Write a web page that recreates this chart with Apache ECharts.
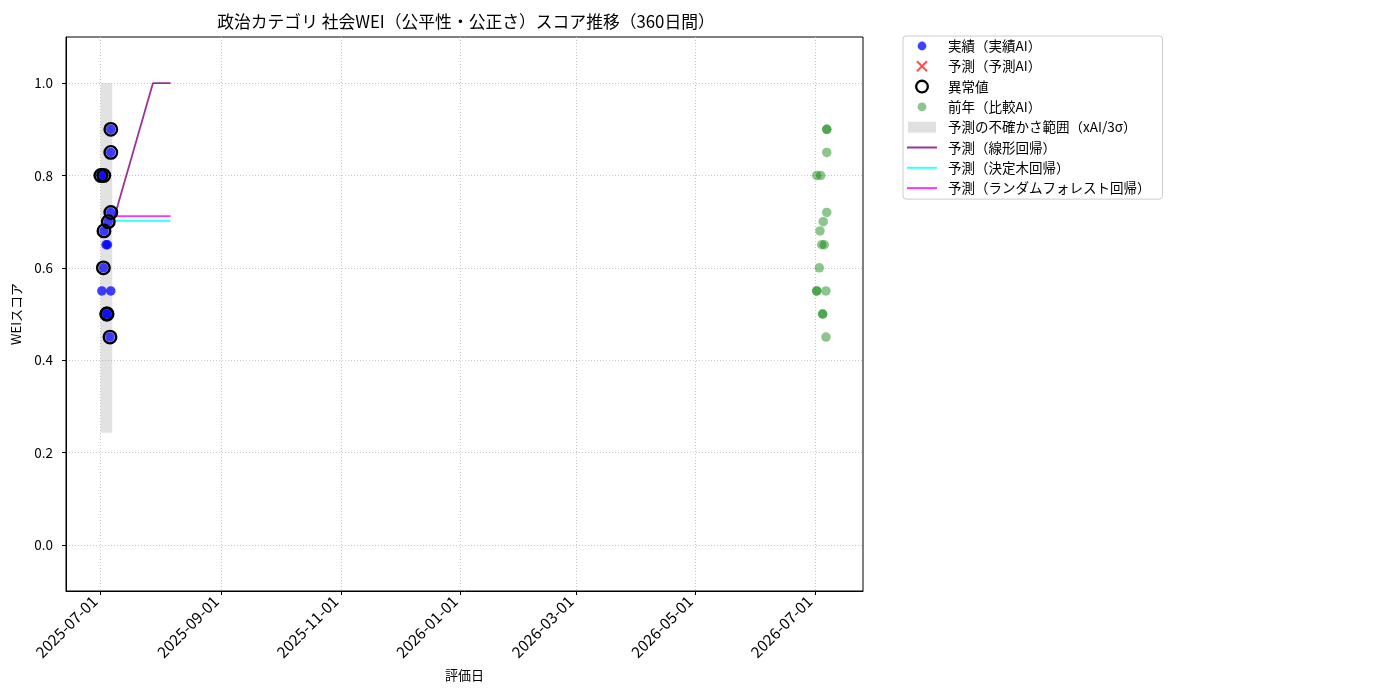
<!DOCTYPE html>
<html><head><meta charset="utf-8">
<script src="https://cdn.jsdelivr.net/npm/echarts@6/dist/echarts.min.js"></script>
<style>html,body{margin:0;padding:0;background:#fff}#c{width:1400px;height:700px}</style>
</head><body><div id="c"></div>
<script>
// ---- data ----
const actualDates = ['2025-07-06 12:00','2025-07-06 12:00','2025-07-01 10:00','2025-07-02 22:00','2025-07-06 12:00','2025-07-05 05:00','2025-07-03 00:00','2025-07-04 02:00','2025-07-04 19:00','2025-07-02 17:00','2025-07-01 22:00','2025-07-06 12:00','2025-07-04 10:00','2025-07-04 14:00','2025-07-06 02:00'];
const actualValues = [0.90,0.85,0.80,0.80,0.72,0.70,0.68,0.65,0.65,0.60,0.55,0.55,0.50,0.50,0.45];
const anomalyDates = ['2025-07-06 12:00','2025-07-06 12:00','2025-07-01 10:00','2025-07-02 22:00','2025-07-06 12:00','2025-07-05 05:00','2025-07-03 00:00','2025-07-02 17:00','2025-07-04 10:00','2025-07-04 14:00','2025-07-06 02:00'];
const anomalyValues = [0.90,0.85,0.80,0.80,0.72,0.70,0.68,0.60,0.50,0.50,0.45];
const prevDates = ['2026-07-07 00:00','2026-07-07 00:00','2026-07-07 00:00','2026-07-01 21:00','2026-07-03 22:00','2026-07-07 00:00','2026-07-05 05:00','2026-07-03 13:00','2026-07-04 10:00','2026-07-05 18:00','2026-07-03 05:00','2026-07-01 21:00','2026-07-01 21:00','2026-07-06 14:00','2026-07-04 22:00','2026-07-04 22:00','2026-07-06 14:00'];
const prevValues = [0.90,0.90,0.85,0.80,0.80,0.72,0.70,0.68,0.65,0.65,0.60,0.55,0.55,0.55,0.50,0.50,0.45];
const predDates = [];
const predValues = [];
const bandDates = ['2025-07-01 08:00','2025-07-07 06:00'];
const bandLow = [0.243];
const bandHigh = [1.0];
const linearDates = ['2025-07-08 00:00','2025-07-28 00:00','2025-08-06 00:00'];
const linearValues = [0.705,1.0,1.0];
const treeDates = ['2025-07-08 00:00','2025-08-06 00:00'];
const treeValues = [0.702,0.702];
const rfDates = ['2025-07-08 00:00','2025-08-06 00:00'];
const rfValues = [0.712,0.712];
const xTickLabels = ['2025-07-01','2025-09-01','2025-11-01','2026-01-01','2026-03-01','2026-05-01','2026-07-01'];
const yTickValues = [0.0,0.2,0.4,0.6,0.8,1.0];
const xRange = ['2025-06-13 15:00','2026-07-25 12:00'];

const ts = s => new Date(s.length === 10 ? s + 'T00:00:00' : s.replace(' ', 'T') + ':00').getTime();
const pairs = (d, v) => d.map((x, i) => [ts(x), v[i]]);
const pad = n => String(n).padStart(2, '0');
const fmtDate = v => { const d = new Date(v); return d.getFullYear() + '-' + pad(d.getMonth() + 1) + '-' + pad(d.getDate()); };

const FONT = '"Noto Sans CJK JP", "Noto Sans", sans-serif';
const BOX = 'M0,0M30,14';
const names = ['実績（実績AI）','予測（予測AI）','異常値','前年（比較AI）','予測の不確かさ範囲（xAI/3σ）','予測（線形回帰）','予測（決定木回帰）','予測（ランダムフォレスト回帰）'];
const BLUE = 'rgba(0,0,255,0.75)', GREEN = 'rgba(0,128,0,0.45)';
const ICON_DOT = 'path://' + BOX + 'M19.4,7A4.4,4.4,0,1,1,10.6,7A4.4,4.4,0,1,1,19.4,7Z';
const ICON_X = 'path://' + BOX + 'M10.7,1.3L20.7,11.3L19.3,12.7L9.3,2.7ZM19.3,1.3L20.7,2.7L10.7,12.7L9.3,11.3Z';
const ICON_RING = 'path://' + BOX + 'M22.3,7A7.3,7.3,0,1,1,7.7,7A7.3,7.3,0,1,1,22.3,7ZM19.9,7A4.9,4.9,0,1,0,10.1,7A4.9,4.9,0,1,0,19.9,7Z';
const ICON_RECT = 'path://' + BOX + 'M1,1.5L29,1.5L29,12.5L1,12.5Z';
const ICON_LINE = 'path://' + BOX + 'M0,6L30,6L30,8L0,8Z';

const chart = echarts.init(document.getElementById('c'), null, {renderer: 'canvas'});
chart.setOption({
  animation: false,
  backgroundColor: '#fff',
  textStyle: {fontFamily: FONT},
  title: {
    text: '政治カテゴリ 社会WEI（公平性・公正さ）スコア推移（360日間）',
    left: 461, top: 8, textAlign: 'center',
    textStyle: {fontSize: 16.8, fontWeight: 'normal', color: '#000', fontFamily: FONT}
  },
  legend: {
    orient: 'vertical', left: 903, top: 36,
    itemWidth: 30, itemHeight: 14, itemGap: 6.3,
    padding: [3, 12, 4, 4],
    borderColor: '#cccccc', borderWidth: 1, borderRadius: 3,
    textStyle: {fontSize: 13.5, color: '#000', fontFamily: FONT, lineHeight: 14, padding: [0, 0, 0, 6]},
    data: [
      {name: names[0], icon: ICON_DOT, itemStyle: {color: BLUE, borderWidth: 0, opacity: 1}},
      {name: names[1], icon: ICON_X, itemStyle: {color: 'rgba(255,0,0,0.7)', borderWidth: 0, opacity: 1}},
      {name: names[2], icon: ICON_RING, itemStyle: {color: '#000', borderWidth: 0, opacity: 1}},
      {name: names[3], icon: ICON_DOT, itemStyle: {color: GREEN, borderWidth: 0, opacity: 1}},
      {name: names[4], icon: ICON_RECT, itemStyle: {color: '#e0e0e0', borderWidth: 0, opacity: 1}},
      {name: names[5], icon: ICON_LINE, itemStyle: {color: 'rgba(128,0,128,0.8)', borderWidth: 0, opacity: 1}},
      {name: names[6], icon: ICON_LINE, itemStyle: {color: 'rgba(0,255,255,0.8)', borderWidth: 0, opacity: 1}},
      {name: names[7], icon: ICON_LINE, itemStyle: {color: 'rgba(255,0,255,0.8)', borderWidth: 0, opacity: 1}}
    ]
  },
  grid: {left: 66, right: 537, top: 37, bottom: 109, show: true, borderColor: '#000', borderWidth: 1, backgroundColor: 'transparent'},
  xAxis: {
    type: 'value', min: ts(xRange[0]), max: ts(xRange[1]), scale: true,
    name: '評価日', nameLocation: 'middle', nameGap: 78,
    nameTextStyle: {fontSize: 13, color: '#000', fontFamily: FONT},
    axisLine: {show: true, onZero: false, lineStyle: {color: '#000', width: 1}},
    axisTick: {show: true, length: 4, lineStyle: {color: '#000'}, customValues: xTickLabels.map(ts)},
    axisLabel: {show: true, rotate: 45, fontSize: 15.5, color: '#000', fontFamily: FONT, margin: 13, verticalAlign: 'bottom',
      customValues: xTickLabels.map(ts), formatter: v => fmtDate(v)},
    splitLine: {show: true, lineStyle: {color: '#c8c8c8', type: [1, 2], width: 1}}
  },
  yAxis: {
    type: 'value', min: -0.1, max: 1.1,
    name: 'WEIスコア', nameLocation: 'middle', nameGap: 43, nameRotate: 90,
    nameTextStyle: {fontSize: 13, color: '#000', fontFamily: FONT},
    axisLine: {show: true, onZero: false, lineStyle: {color: '#000', width: 1}},
    axisTick: {show: true, length: 4, lineStyle: {color: '#000'}, customValues: yTickValues},
    axisLabel: {show: true, fontSize: 13.5, color: '#000', fontFamily: FONT, margin: 13,
      customValues: yTickValues, formatter: v => v.toFixed(1)},
    splitLine: {show: true, lineStyle: {color: '#c8c8c8', type: [1, 2], width: 1}}
  },
  series: [
    {name: names[4], type: 'custom', z: 1, silent: true,
      itemStyle: {color: '#e0e0e0'},
      data: [[ts(bandDates[0]), ts(bandDates[1]), bandLow[0], bandHigh[0]]],
      encode: {x: [0, 1], y: [2, 3]},
      renderItem: (params, api) => {
        const p1 = api.coord([api.value(0), api.value(3)]);
        const p2 = api.coord([api.value(1), api.value(2)]);
        return {type: 'rect', shape: {x: p1[0], y: p1[1], width: p2[0] - p1[0], height: p2[1] - p1[1]},
          style: {fill: 'rgba(160,160,160,0.3)'}};
      }},
    {name: names[5], type: 'line', z: 2, symbol: 'none', data: pairs(linearDates, linearValues),
      lineStyle: {color: 'rgba(128,0,128,0.8)', width: 1.8}, itemStyle: {color: 'rgba(128,0,128,0.8)'}},
    {name: names[6], type: 'line', z: 2, symbol: 'none', data: pairs(treeDates, treeValues),
      lineStyle: {color: 'rgba(0,255,255,0.8)', width: 1.8}, itemStyle: {color: 'rgba(0,255,255,0.8)'}},
    {name: names[7], type: 'line', z: 2, symbol: 'none', data: pairs(rfDates, rfValues),
      lineStyle: {color: 'rgba(255,0,255,0.8)', width: 1.8}, itemStyle: {color: 'rgba(255,0,255,0.8)'}},
    {name: names[0], type: 'scatter', z: 3, symbolSize: 9.5, data: pairs(actualDates, actualValues),
      itemStyle: {color: BLUE, opacity: 1}},
    {name: names[1], type: 'scatter', z: 3, symbol: 'path://M0,0L10,10M10,0L0,10', symbolSize: 10, data: pairs(predDates, predValues),
      itemStyle: {color: 'rgba(255,0,0,0.7)', opacity: 1}},
    {name: names[3], type: 'scatter', z: 3, symbolSize: 9.5, data: pairs(prevDates, prevValues),
      itemStyle: {color: GREEN, opacity: 1}},
    {name: names[2], type: 'scatter', z: 4, symbolSize: 12.5, data: pairs(anomalyDates, anomalyValues),
      itemStyle: {color: 'rgba(0,0,0,0)', borderColor: '#000', borderWidth: 2.4, opacity: 1}}
  ]
});
</script></body></html>
